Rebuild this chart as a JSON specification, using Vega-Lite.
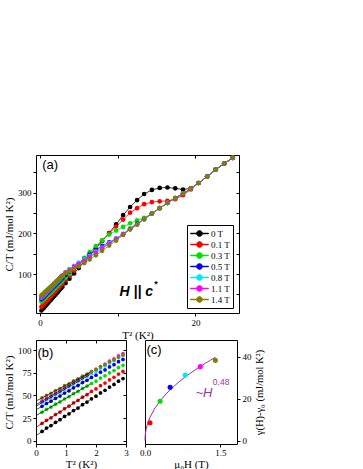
{
"$schema": "https://vega.github.io/schema/vega-lite/v6.json",
"background": "white",
"padding": {"left": 3, "top": 154, "right": 0, "bottom": 0},
"config": {
 "font": "Liberation Serif",
 "view": {"stroke": "black", "strokeWidth": 1},
 "axis": {"labelFont": "Liberation Serif", "titleFont": "Liberation Serif", "labelFontSize": 9, "titleFontSize": 11, "titleFontWeight": "normal", "labelColor": "black", "titleColor": "black", "domain": false, "tickColor": "black", "tickSize": 3, "labelPadding": 2, "titlePadding": 3, "grid": false, "labelFlush": false, "labelOverlap": false}
},
"datasets": {
"cp": [
{"f":"0 T","t":0.2,"c":10.1},{"f":"0 T","t":0.35,"c":13.8},{"f":"0 T","t":0.5,"c":16.6},{"f":"0 T","t":0.65,"c":20.3},{"f":"0 T","t":0.8,"c":23.1},{"f":"0 T","t":0.95,"c":26.8},{"f":"0 T","t":1.1,"c":29.6},{"f":"0 T","t":1.25,"c":33.3},{"f":"0 T","t":1.4,"c":36.1},{"f":"0 T","t":1.55,"c":39.8},{"f":"0 T","t":1.7,"c":42.7},{"f":"0 T","t":1.85,"c":46.3},{"f":"0 T","t":2.0,"c":49.2},{"f":"0 T","t":2.15,"c":52.8},{"f":"0 T","t":2.3,"c":55.7},{"f":"0 T","t":2.45,"c":59.3},{"f":"0 T","t":2.6,"c":62.2},{"f":"0 T","t":2.75,"c":65.8},{"f":"0 T","t":2.9,"c":68.7},
{"f":"0 T","t":3.3,"c":77.6},{"f":"0 T","t":3.8,"c":88.5},{"f":"0 T","t":4.4,"c":101.5},{"f":"0 T","t":5.0,"c":114.5},{"f":"0 T","t":5.7,"c":130},{"f":"0 T","t":6.4,"c":146},{"f":"0 T","t":7.2,"c":163},{"f":"0 T","t":8.0,"c":181},{"f":"0 T","t":8.9,"c":201},{"f":"0 T","t":9.8,"c":222},{"f":"0 T","t":10.7,"c":245},{"f":"0 T","t":11.6,"c":265},{"f":"0 T","t":12.5,"c":282},{"f":"0 T","t":13.4,"c":297},{"f":"0 T","t":14.4,"c":307},{"f":"0 T","t":15.4,"c":312},{"f":"0 T","t":16.4,"c":313},{"f":"0 T","t":17.4,"c":311},{"f":"0 T","t":18.4,"c":308},{"f":"0 T","t":19.4,"c":311},{"f":"0 T","t":20.4,"c":324},{"f":"0 T","t":21.5,"c":340},{"f":"0 T","t":22.6,"c":357},{"f":"0 T","t":23.7,"c":372},{"f":"0 T","t":24.8,"c":386},
{"f":"0.1 T","t":0.2,"c":19.0},{"f":"0.1 T","t":0.35,"c":22.4},{"f":"0.1 T","t":0.5,"c":25.2},{"f":"0.1 T","t":0.65,"c":28.8},{"f":"0.1 T","t":0.8,"c":31.6},{"f":"0.1 T","t":0.95,"c":35.3},{"f":"0.1 T","t":1.1,"c":38.1},{"f":"0.1 T","t":1.25,"c":41.7},{"f":"0.1 T","t":1.4,"c":44.5},{"f":"0.1 T","t":1.55,"c":48.1},{"f":"0.1 T","t":1.7,"c":50.9},{"f":"0.1 T","t":1.85,"c":54.5},{"f":"0.1 T","t":2.0,"c":57.3},{"f":"0.1 T","t":2.15,"c":60.9},{"f":"0.1 T","t":2.3,"c":63.7},{"f":"0.1 T","t":2.45,"c":67.4},{"f":"0.1 T","t":2.6,"c":70.2},{"f":"0.1 T","t":2.75,"c":73.8},{"f":"0.1 T","t":2.9,"c":76.6},
{"f":"0.1 T","t":3.3,"c":85.3},{"f":"0.1 T","t":3.8,"c":95.5},{"f":"0.1 T","t":4.4,"c":108},{"f":"0.1 T","t":5.0,"c":120},{"f":"0.1 T","t":5.7,"c":134},{"f":"0.1 T","t":6.4,"c":149},{"f":"0.1 T","t":7.2,"c":165},{"f":"0.1 T","t":8.0,"c":182},{"f":"0.1 T","t":8.9,"c":200},{"f":"0.1 T","t":9.8,"c":217},{"f":"0.1 T","t":10.7,"c":234},{"f":"0.1 T","t":11.6,"c":251},{"f":"0.1 T","t":12.5,"c":262},{"f":"0.1 T","t":13.4,"c":272},{"f":"0.1 T","t":14.4,"c":277},{"f":"0.1 T","t":15.4,"c":279},{"f":"0.1 T","t":16.4,"c":280},{"f":"0.1 T","t":17.4,"c":284},{"f":"0.1 T","t":18.4,"c":294},{"f":"0.1 T","t":19.4,"c":308},{"f":"0.1 T","t":20.4,"c":324},{"f":"0.1 T","t":21.5,"c":340},{"f":"0.1 T","t":22.6,"c":357},{"f":"0.1 T","t":23.7,"c":372},{"f":"0.1 T","t":24.8,"c":386},
{"f":"0.3 T","t":0.2,"c":31.5},{"f":"0.3 T","t":0.35,"c":34.6},{"f":"0.3 T","t":0.5,"c":37.1},{"f":"0.3 T","t":0.65,"c":40.4},{"f":"0.3 T","t":0.8,"c":42.9},{"f":"0.3 T","t":0.95,"c":46.2},{"f":"0.3 T","t":1.1,"c":48.7},{"f":"0.3 T","t":1.25,"c":52.0},{"f":"0.3 T","t":1.4,"c":54.5},{"f":"0.3 T","t":1.55,"c":57.8},{"f":"0.3 T","t":1.7,"c":60.3},{"f":"0.3 T","t":1.85,"c":63.5},{"f":"0.3 T","t":2.0,"c":66.0},{"f":"0.3 T","t":2.15,"c":69.3},{"f":"0.3 T","t":2.3,"c":71.8},{"f":"0.3 T","t":2.45,"c":75.1},{"f":"0.3 T","t":2.6,"c":77.6},{"f":"0.3 T","t":2.75,"c":80.9},{"f":"0.3 T","t":2.9,"c":83.4},
{"f":"0.3 T","t":3.3,"c":91.3},{"f":"0.3 T","t":3.8,"c":100.5},{"f":"0.3 T","t":4.4,"c":114},{"f":"0.3 T","t":5.0,"c":126},{"f":"0.3 T","t":5.7,"c":140},{"f":"0.3 T","t":6.4,"c":154},{"f":"0.3 T","t":7.2,"c":169},{"f":"0.3 T","t":8.0,"c":183},{"f":"0.3 T","t":8.9,"c":197},{"f":"0.3 T","t":9.8,"c":207},{"f":"0.3 T","t":10.7,"c":216},{"f":"0.3 T","t":11.6,"c":225},{"f":"0.3 T","t":12.5,"c":232},{"f":"0.3 T","t":13.4,"c":238},{"f":"0.3 T","t":14.4,"c":249},{"f":"0.3 T","t":15.4,"c":262},{"f":"0.3 T","t":16.4,"c":275},{"f":"0.3 T","t":17.4,"c":287},{"f":"0.3 T","t":18.4,"c":298},{"f":"0.3 T","t":19.4,"c":310},{"f":"0.3 T","t":20.4,"c":324},{"f":"0.3 T","t":21.5,"c":340},{"f":"0.3 T","t":22.6,"c":357},{"f":"0.3 T","t":23.7,"c":372},{"f":"0.3 T","t":24.8,"c":386},
{"f":"0.5 T","t":0.2,"c":38.0},{"f":"0.5 T","t":0.35,"c":41.1},{"f":"0.5 T","t":0.5,"c":43.6},{"f":"0.5 T","t":0.65,"c":46.9},{"f":"0.5 T","t":0.8,"c":49.4},{"f":"0.5 T","t":0.95,"c":52.7},{"f":"0.5 T","t":1.1,"c":55.2},{"f":"0.5 T","t":1.25,"c":58.5},{"f":"0.5 T","t":1.4,"c":61.0},{"f":"0.5 T","t":1.55,"c":64.3},{"f":"0.5 T","t":1.7,"c":66.8},{"f":"0.5 T","t":1.85,"c":70.0},{"f":"0.5 T","t":2.0,"c":72.5},{"f":"0.5 T","t":2.15,"c":75.8},{"f":"0.5 T","t":2.3,"c":78.3},{"f":"0.5 T","t":2.45,"c":81.6},{"f":"0.5 T","t":2.6,"c":84.1},{"f":"0.5 T","t":2.75,"c":87.4},{"f":"0.5 T","t":2.9,"c":89.9},
{"f":"0.5 T","t":3.3,"c":97.8},{"f":"0.5 T","t":3.8,"c":106},{"f":"0.5 T","t":4.4,"c":116},{"f":"0.5 T","t":5.0,"c":126},{"f":"0.5 T","t":5.7,"c":137},{"f":"0.5 T","t":6.4,"c":148},{"f":"0.5 T","t":7.2,"c":159},{"f":"0.5 T","t":8.0,"c":169},{"f":"0.5 T","t":8.9,"c":178},{"f":"0.5 T","t":9.8,"c":187},{"f":"0.5 T","t":10.7,"c":198},{"f":"0.5 T","t":11.6,"c":212},{"f":"0.5 T","t":12.5,"c":224},{"f":"0.5 T","t":13.4,"c":235},{"f":"0.5 T","t":14.4,"c":249},{"f":"0.5 T","t":15.4,"c":262},{"f":"0.5 T","t":16.4,"c":275},{"f":"0.5 T","t":17.4,"c":287},{"f":"0.5 T","t":18.4,"c":298},{"f":"0.5 T","t":19.4,"c":310},{"f":"0.5 T","t":20.4,"c":324},{"f":"0.5 T","t":21.5,"c":340},{"f":"0.5 T","t":22.6,"c":357},{"f":"0.5 T","t":23.7,"c":372},{"f":"0.5 T","t":24.8,"c":386},
{"f":"0.8 T","t":0.2,"c":42.0},{"f":"0.8 T","t":0.35,"c":45.1},{"f":"0.8 T","t":0.5,"c":47.7},{"f":"0.8 T","t":0.65,"c":51.0},{"f":"0.8 T","t":0.8,"c":53.5},{"f":"0.8 T","t":0.95,"c":56.8},{"f":"0.8 T","t":1.1,"c":59.4},{"f":"0.8 T","t":1.25,"c":62.7},{"f":"0.8 T","t":1.4,"c":65.2},{"f":"0.8 T","t":1.55,"c":68.5},{"f":"0.8 T","t":1.7,"c":71.1},{"f":"0.8 T","t":1.85,"c":74.4},{"f":"0.8 T","t":2.0,"c":76.9},{"f":"0.8 T","t":2.15,"c":80.2},{"f":"0.8 T","t":2.3,"c":82.8},{"f":"0.8 T","t":2.45,"c":86.1},{"f":"0.8 T","t":2.6,"c":88.6},{"f":"0.8 T","t":2.75,"c":91.9},{"f":"0.8 T","t":2.9,"c":94.5},
{"f":"0.8 T","t":3.3,"c":104},{"f":"0.8 T","t":3.8,"c":112},{"f":"0.8 T","t":4.4,"c":120},{"f":"0.8 T","t":5.0,"c":128},{"f":"0.8 T","t":5.7,"c":136},{"f":"0.8 T","t":6.4,"c":145},{"f":"0.8 T","t":7.2,"c":155},{"f":"0.8 T","t":8.0,"c":165},{"f":"0.8 T","t":8.9,"c":176},{"f":"0.8 T","t":9.8,"c":187},{"f":"0.8 T","t":10.7,"c":199},{"f":"0.8 T","t":11.6,"c":211},{"f":"0.8 T","t":12.5,"c":222},{"f":"0.8 T","t":13.4,"c":235},{"f":"0.8 T","t":14.4,"c":249},{"f":"0.8 T","t":15.4,"c":262},{"f":"0.8 T","t":16.4,"c":275},{"f":"0.8 T","t":17.4,"c":287},{"f":"0.8 T","t":18.4,"c":298},{"f":"0.8 T","t":19.4,"c":310},{"f":"0.8 T","t":20.4,"c":324},{"f":"0.8 T","t":21.5,"c":340},{"f":"0.8 T","t":22.6,"c":357},{"f":"0.8 T","t":23.7,"c":372},{"f":"0.8 T","t":24.8,"c":386},
{"f":"1.1 T","t":0.2,"c":43.7},{"f":"1.1 T","t":0.35,"c":46.8},{"f":"1.1 T","t":0.5,"c":49.4},{"f":"1.1 T","t":0.65,"c":52.7},{"f":"1.1 T","t":0.8,"c":55.3},{"f":"1.1 T","t":0.95,"c":58.6},{"f":"1.1 T","t":1.1,"c":61.1},{"f":"1.1 T","t":1.25,"c":64.5},{"f":"1.1 T","t":1.4,"c":67.0},{"f":"1.1 T","t":1.55,"c":70.4},{"f":"1.1 T","t":1.7,"c":72.9},{"f":"1.1 T","t":1.85,"c":76.2},{"f":"1.1 T","t":2.0,"c":78.8},{"f":"1.1 T","t":2.15,"c":82.1},{"f":"1.1 T","t":2.3,"c":84.7},{"f":"1.1 T","t":2.45,"c":88.0},{"f":"1.1 T","t":2.6,"c":90.5},{"f":"1.1 T","t":2.75,"c":93.9},{"f":"1.1 T","t":2.9,"c":96.4},
{"f":"1.1 T","t":3.3,"c":104},{"f":"1.1 T","t":3.8,"c":110},{"f":"1.1 T","t":4.4,"c":118},{"f":"1.1 T","t":5.0,"c":125},{"f":"1.1 T","t":5.7,"c":133},{"f":"1.1 T","t":6.4,"c":142},{"f":"1.1 T","t":7.2,"c":152},{"f":"1.1 T","t":8.0,"c":163},{"f":"1.1 T","t":8.9,"c":174},{"f":"1.1 T","t":9.8,"c":186},{"f":"1.1 T","t":10.7,"c":198},{"f":"1.1 T","t":11.6,"c":210},{"f":"1.1 T","t":12.5,"c":222},{"f":"1.1 T","t":13.4,"c":235},{"f":"1.1 T","t":14.4,"c":249},{"f":"1.1 T","t":15.4,"c":262},{"f":"1.1 T","t":16.4,"c":275},{"f":"1.1 T","t":17.4,"c":287},{"f":"1.1 T","t":18.4,"c":298},{"f":"1.1 T","t":19.4,"c":310},{"f":"1.1 T","t":20.4,"c":324},{"f":"1.1 T","t":21.5,"c":340},{"f":"1.1 T","t":22.6,"c":357},{"f":"1.1 T","t":23.7,"c":372},{"f":"1.1 T","t":24.8,"c":386},
{"f":"1.4 T","t":0.2,"c":47.3},{"f":"1.4 T","t":0.35,"c":50.2},{"f":"1.4 T","t":0.5,"c":52.4},{"f":"1.4 T","t":0.65,"c":55.5},{"f":"1.4 T","t":0.8,"c":57.7},{"f":"1.4 T","t":0.95,"c":60.8},{"f":"1.4 T","t":1.1,"c":63.0},{"f":"1.4 T","t":1.25,"c":66.1},{"f":"1.4 T","t":1.4,"c":68.3},{"f":"1.4 T","t":1.55,"c":71.4},{"f":"1.4 T","t":1.7,"c":73.7},{"f":"1.4 T","t":1.85,"c":76.7},{"f":"1.4 T","t":2.0,"c":79.0},{"f":"1.4 T","t":2.15,"c":82.0},{"f":"1.4 T","t":2.3,"c":84.3},{"f":"1.4 T","t":2.45,"c":87.3},{"f":"1.4 T","t":2.6,"c":89.6},{"f":"1.4 T","t":2.75,"c":92.6},{"f":"1.4 T","t":2.9,"c":94.9},
{"f":"1.4 T","t":3.3,"c":102},{"f":"1.4 T","t":3.8,"c":107},{"f":"1.4 T","t":4.4,"c":113},{"f":"1.4 T","t":5.0,"c":119},{"f":"1.4 T","t":5.7,"c":127},{"f":"1.4 T","t":6.4,"c":136},{"f":"1.4 T","t":7.2,"c":146},{"f":"1.4 T","t":8.0,"c":157},{"f":"1.4 T","t":8.9,"c":170},{"f":"1.4 T","t":9.8,"c":182},{"f":"1.4 T","t":10.7,"c":196},{"f":"1.4 T","t":11.6,"c":210},{"f":"1.4 T","t":12.5,"c":222},{"f":"1.4 T","t":13.4,"c":235},{"f":"1.4 T","t":14.4,"c":249},{"f":"1.4 T","t":15.4,"c":262},{"f":"1.4 T","t":16.4,"c":275},{"f":"1.4 T","t":17.4,"c":287},{"f":"1.4 T","t":18.4,"c":298},{"f":"1.4 T","t":19.4,"c":310},{"f":"1.4 T","t":20.4,"c":324},{"f":"1.4 T","t":21.5,"c":340},{"f":"1.4 T","t":22.6,"c":357},{"f":"1.4 T","t":23.7,"c":372},{"f":"1.4 T","t":24.8,"c":386}
],
"fits": [
{"f":"0 T","t0":0,"c0":5.5,"t1":1.8,"c1":45.1},
{"f":"0.1 T","t0":0,"c0":14.7,"t1":1.8,"c1":53.2},
{"f":"0.3 T","t0":0,"c0":27.6,"t1":1.8,"c1":62.4},
{"f":"0.5 T","t0":0,"c0":34.1,"t1":1.8,"c1":69.0},
{"f":"0.8 T","t0":0,"c0":38.1,"t1":1.8,"c1":73.2},
{"f":"1.1 T","t0":0,"c0":39.8,"t1":1.8,"c1":75.1},
{"f":"1.4 T","t0":0,"c0":43.8,"t1":1.8,"c1":75.7}
],
"gam": [
{"f":"0.1 T","H":0.1,"g":8.5},{"f":"0.3 T","H":0.3,"g":18.8},{"f":"0.5 T","H":0.5,"g":25.5},{"f":"0.8 T","H":0.8,"g":31.3},{"f":"1.1 T","H":1.1,"g":35.3},{"f":"1.4 T","H":1.4,"g":38.3}
],
"curve": [
{"H":0,"g":0},{"H":0.005,"g":2.66},{"H":0.02,"g":5.17},{"H":0.05,"g":8.02},{"H":0.1,"g":11.2},{"H":0.2,"g":15.6},{"H":0.3,"g":18.96},{"H":0.4,"g":21.77},{"H":0.5,"g":24.24},{"H":0.6,"g":26.45},{"H":0.7,"g":28.48},{"H":0.8,"g":30.37},{"H":0.9,"g":32.13},{"H":1.0,"g":33.8},{"H":1.1,"g":35.38},{"H":1.2,"g":36.89},{"H":1.3,"g":38.34},{"H":1.4,"g":39.72}
]
},
"bounds": "flush",
"spacing": 27,
"vconcat": [
{
 "width": 203, "height": 158,
 "resolve": {"axis": {"x": "independent", "y": "independent"}},
 "layer": [
  {"data": {"name": "cp"}, "mark": {"type": "line", "strokeWidth": 0.8},
   "encoding": {
    "x": {"field": "t", "type": "quantitative", "scale": {"domain": [-0.5, 25.6], "nice": false, "zero": false},
          "axis": {"values": [0, 10, 20], "labelExpr": "datum.value == 10 ? '' : datum.label", "title": "T² (K²)", "tickSize": 3, "titlePadding": 2}},
    "y": {"field": "c", "type": "quantitative", "scale": {"domain": [4, 393], "nice": false, "zero": false},
          "axis": {"values": [50, 100, 150, 200, 250, 300, 350], "labelExpr": "datum.value % 100 == 0 ? datum.label : ''", "title": "C/T (mJ/mol K²)"}},
    "color": {"field": "f", "type": "nominal", "sort": null,
              "scale": {"domain": ["0 T", "0.1 T", "0.3 T", "0.5 T", "0.8 T", "1.1 T", "1.4 T"], "range": ["#000000", "#ff0000", "#00e000", "#0000ff", "#00e8f0", "#ff00ff", "#808000"]},
              "legend": {"orient": "none", "legendX": 151, "legendY": 70, "title": null,
                "symbolType": "M -1.8 -0.08 H 1.8 V 0.08 H -1.8 Z M 0.6 0 A 0.6 0.6 0 1 1 -0.6 0 A 0.6 0.6 0 1 1 0.6 0 Z",
                "symbolSize": 100, "symbolStrokeWidth": 0.6, "symbolOffset": 4, "labelOffset": 6,
                "labelFont": "Liberation Serif", "labelFontSize": 9, "labelColor": "black",
                "strokeColor": "black", "fillColor": "white", "padding": 3, "rowPadding": 0}}
   }},
  {"data": {"name": "cp"}, "mark": {"type": "point", "filled": true, "opacity": 1, "size": 22},
   "encoding": {
    "x": {"field": "t", "type": "quantitative", "axis": null},
    "y": {"field": "c", "type": "quantitative", "axis": null},
    "color": {"field": "f", "type": "nominal", "sort": null}
   }},
  {"data": {"values": [{}]}, "mark": {"type": "point", "opacity": 0},
   "encoding": {
    "x": {"datum": 0, "type": "quantitative", "axis": {"orient": "top", "labels": false, "title": null, "tickSize": -3, "values": [0, 10, 20]}},
    "y": {"datum": 100, "type": "quantitative", "axis": {"orient": "right", "labels": false, "title": null, "tickSize": -3, "values": [50, 100, 150, 200, 250, 300, 350]}}
   }},
  {"data": {"values": [{}]}, "mark": {"type": "text", "text": "(a)", "font": "Liberation Sans", "fontSize": 13, "align": "left", "baseline": "top"},
   "encoding": {"x": {"datum": 0.3, "type": "quantitative", "axis": null}, "y": {"datum": 384, "type": "quantitative", "axis": null}}},
  {"data": {"values": [{}]}, "mark": {"type": "text", "text": "H || c", "font": "Liberation Sans", "fontSize": 14, "fontWeight": "bold", "fontStyle": "italic", "align": "center", "baseline": "alphabetic"},
   "encoding": {"x": {"datum": 12.4, "type": "quantitative", "axis": null}, "y": {"datum": 45, "type": "quantitative", "axis": null}}},
  {"data": {"values": [{}]}, "mark": {"type": "text", "text": "*", "font": "Liberation Sans", "fontSize": 9, "fontWeight": "bold", "align": "left", "baseline": "alphabetic"},
   "encoding": {"x": {"datum": 14.7, "type": "quantitative", "axis": null}, "y": {"datum": 68, "type": "quantitative", "axis": null}}}
 ]
},
{
 "bounds": "flush",
 "spacing": 19,
 "hconcat": [
  {
   "width": 90, "height": 104,
   "resolve": {"axis": {"x": "independent", "y": "independent"}},
   "layer": [
    {"data": {"name": "cp"}, "transform": [{"filter": "datum.t <= 3"}],
     "mark": {"type": "point", "filled": true, "opacity": 1, "size": 14},
     "encoding": {
      "x": {"field": "t", "type": "quantitative", "scale": {"domain": [0, 3], "nice": false, "zero": false},
            "axis": {"values": [0, 1, 2, 3], "title": "T² (K²)", "tickSize": 3, "labelPadding": 1, "titlePadding": 1}},
      "y": {"field": "c", "type": "quantitative", "scale": {"domain": [-3.8, 111.5], "nice": false, "zero": false},
            "axis": {"values": [0, 25, 50, 75, 100], "title": "C/T (mJ/mol K²)"}},
      "color": {"field": "f", "type": "nominal", "sort": null, "legend": null,
                "scale": {"domain": ["0 T", "0.1 T", "0.3 T", "0.5 T", "0.8 T", "1.1 T", "1.4 T"], "range": ["#000000", "#ff0000", "#00e000", "#0000ff", "#00e8f0", "#ff00ff", "#808000"]}}
     }},
    {"data": {"name": "fits"}, "mark": {"type": "rule", "color": "black", "strokeWidth": 0.7},
     "encoding": {
      "x": {"field": "t0", "type": "quantitative", "axis": null},
      "y": {"field": "c0", "type": "quantitative", "axis": null},
      "x2": {"field": "t1"}, "y2": {"field": "c1"}
     }},
    {"data": {"values": [{}]}, "mark": {"type": "point", "opacity": 0},
     "encoding": {
      "x": {"datum": 0, "type": "quantitative", "axis": {"orient": "top", "labels": false, "title": null, "tickSize": -3, "values": [0, 1, 2, 3]}},
      "y": {"datum": 50, "type": "quantitative", "axis": {"orient": "right", "labels": false, "title": null, "tickSize": -3, "values": [0, 25, 50, 75, 100]}}
     }},
    {"data": {"values": [{}]}, "mark": {"type": "text", "text": "(b)", "font": "Liberation Sans", "fontSize": 13, "align": "left", "baseline": "top"},
     "encoding": {"x": {"datum": 0.05, "type": "quantitative", "axis": null}, "y": {"datum": 104, "type": "quantitative", "axis": null}}}
   ]
  },
  {
   "width": 92, "height": 104,
   "layer": [
    {"data": {"name": "curve"}, "mark": {"type": "line", "color": "#9b30a0", "strokeWidth": 1},
     "encoding": {
      "x": {"field": "H", "type": "quantitative", "scale": {"domain": [0, 1.83], "nice": false, "zero": false},
            "axis": {"values": [0, 0.5, 1, 1.5], "format": ".1f", "title": "μ₀H (T)", "tickSize": 3, "labelPadding": 1, "titlePadding": 1}},
      "y": {"field": "g", "type": "quantitative", "scale": {"domain": [-1.6, 48], "nice": false, "zero": false},
            "axis": {"orient": "right", "values": [0, 10, 20, 30, 40], "title": "γ(H)-γ₀ (mJ/mol K²)", "titleAngle": 270, "titleBaseline": "top", "titleFontSize": 10.5}}
     }},
    {"data": {"name": "gam"}, "mark": {"type": "point", "filled": true, "opacity": 1, "size": 26},
     "encoding": {
      "x": {"field": "H", "type": "quantitative"},
      "y": {"field": "g", "type": "quantitative"},
      "color": {"field": "f", "type": "nominal", "sort": null, "legend": null,
                "scale": {"domain": ["0.1 T", "0.3 T", "0.5 T", "0.8 T", "1.1 T", "1.4 T"], "range": ["#ff0000", "#00e000", "#0000ff", "#00e8f0", "#ff00ff", "#808000"]}}
     }},
    {"data": {"values": [{}]}, "mark": {"type": "text", "text": "~H", "font": "Liberation Sans", "fontSize": 13, "fontStyle": "italic", "color": "#9b30a0", "align": "right", "baseline": "alphabetic"},
     "encoding": {"x": {"datum": 1.34, "type": "quantitative"}, "y": {"datum": 21, "type": "quantitative"}}},
    {"data": {"values": [{}]}, "mark": {"type": "text", "text": "0.48", "font": "Liberation Sans", "fontSize": 8.5, "color": "#9b30a0", "align": "left", "baseline": "alphabetic"},
     "encoding": {"x": {"datum": 1.35, "type": "quantitative"}, "y": {"datum": 26.5, "type": "quantitative"}}},
    {"data": {"values": [{}]}, "mark": {"type": "text", "text": "(c)", "font": "Liberation Sans", "fontSize": 13, "align": "left", "baseline": "top"},
     "encoding": {"x": {"datum": 0.03, "type": "quantitative"}, "y": {"datum": 46, "type": "quantitative"}}}
   ]
  }
 ]
}
]
}
